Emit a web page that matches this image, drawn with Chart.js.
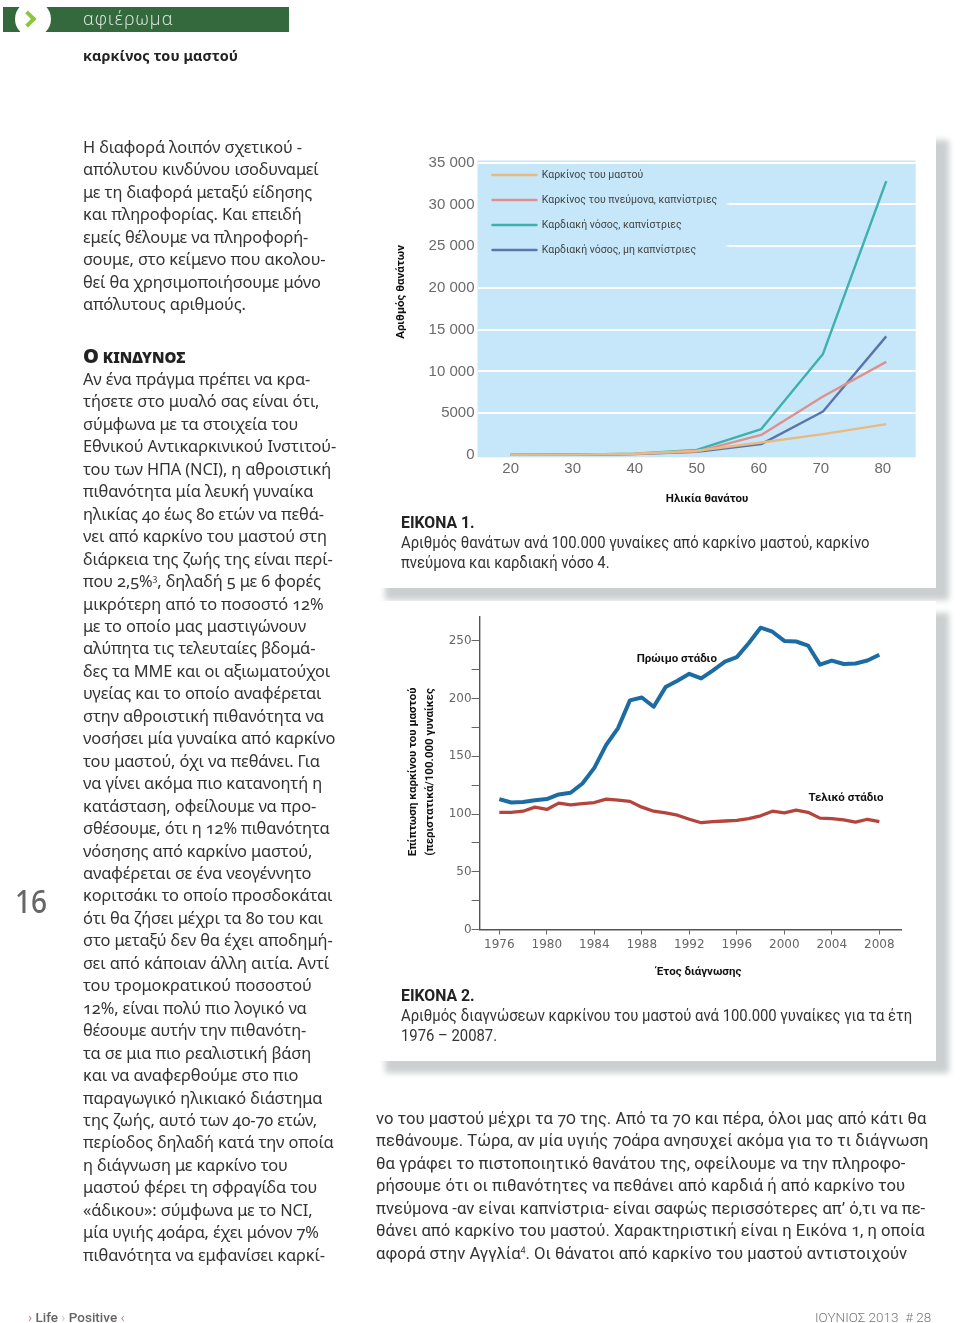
<!DOCTYPE html>
<html lang="el">
<head>
<meta charset="utf-8">
<title>καρκίνος του μαστού</title>
<script src="https://cdn.jsdelivr.net/npm/chart.js@4/dist/chart.umd.min.js"></script>
<style>
  html, body { margin: 0; padding: 0; background: #fff; }
  #page { position: relative; width: 960px; height: 1323px; overflow: hidden; color: #2b2b2b; font-family: "Noto Sans", sans-serif; filter: blur(.3px); }
  #page > * { position: absolute; }
  .col { white-space: nowrap; font-size: 16.4px; line-height: 22.46px; letter-spacing: -0.12px; color: #333; font-variant-numeric: oldstyle-nums; }
  .col sup { font-size: 9px; line-height: 0; }
  .panel { left: 372px; width: 564px; background: #fff; box-shadow: 13px 12px 6px #cbcfcf; }
  .cap { left: 401px; white-space: nowrap; font-family: Roboto, sans-serif; font-size: 15.8px; line-height: 20px; color: #333; transform: scaleX(.94); transform-origin: left top; }
  .caphead { left: 401px; font-family: Roboto, sans-serif; font-size: 15.8px; line-height: 20px; font-weight: 700; color: #222; white-space: nowrap; }
  canvas { position: absolute; display: block; }
  #bar { left: 3px; top: 7px; width: 286px; height: 25px; background: #33693c; overflow: hidden; }
  #dot { position: absolute; left: 12px; top: -6px; width: 36px; height: 36px; border-radius: 50%; background: #fff; }
  #chev { position: absolute; left: 7px; top: 12px; width: 8px; height: 8px; border-top: 4px solid #8cc540; border-right: 4px solid #8cc540; transform: rotate(45deg); }
  #tag { left: 83px; top: 6px; font-family: "Open Sans", sans-serif; font-size: 18px; line-height: 25px; letter-spacing: 1.1px; color: #e6efe6; font-weight: 300; }
</style>
</head>
<body>
<div id="page">
  <div id="bar"><div id="dot"><div id="chev"></div></div></div>
  <div id="tag">αφιέρωμα</div>
  <div style="left:83px;top:45px;font-size:14.4px;line-height:22px;font-weight:700;color:#222;letter-spacing:.1px">καρκίνος του μαστού</div>

  <div class="col" style="left:83px;top:136px">Η διαφορά λοιπόν σχετικού -<br>απόλυτου κινδύνου ισοδυναμεί<br>με τη διαφορά μεταξύ είδησης<br>και πληροφορίας. Και επειδή<br>εμείς θέλουμε να πληροφορή-<br>σουμε, στο κείμενο που ακολου-<br>θεί θα χρησιμοποιήσουμε μόνο<br>απόλυτους αριθμούς.</div>

  <div style="left:83px;top:344px;font-weight:900;line-height:24px;font-size:15px;color:#222;white-space:nowrap"><span style="font-size:20px">Ο</span> ΚΙΝΔΥΝΟΣ</div>

  <div class="col" style="left:83px;top:368px">Αν ένα πράγμα πρέπει να κρα-<br>τήσετε στο μυαλό σας είναι ότι,<br>σύμφωνα με τα στοιχεία του<br>Εθνικού Αντικαρκινικού Ινστιτού-<br>του των ΗΠΑ (NCI), η αθροιστική<br>πιθανότητα μία λευκή γυναίκα<br>ηλικίας 40 έως 80 ετών να πεθά-<br>νει από καρκίνο του μαστού στη<br>διάρκεια της ζωής της είναι περί-<br>που 2,5%<sup>3</sup>, δηλαδή 5 με 6 φορές<br>μικρότερη από το ποσοστό 12%<br>με το οποίο μας μαστιγώνουν<br>αλύπητα τις τελευταίες βδομά-<br>δες τα ΜΜΕ και οι αξιωματούχοι<br>υγείας και το οποίο αναφέρεται<br>στην αθροιστική πιθανότητα να<br>νοσήσει μία γυναίκα από καρκίνο<br>του μαστού, όχι να πεθάνει. Για<br>να γίνει ακόμα πιο κατανοητή η<br>κατάσταση, οφείλουμε να προ-<br>σθέσουμε, ότι η 12% πιθανότητα<br>νόσησης από καρκίνο μαστού,<br>αναφέρεται σε ένα νεογέννητο<br>κοριτσάκι το οποίο προσδοκάται<br>ότι θα ζήσει μέχρι τα 80 του και<br>στο μεταξύ δεν θα έχει αποδημή-<br>σει από κάποιαν άλλη αιτία. Αντί<br>του τρομοκρατικού ποσοστού<br>12%, είναι πολύ πιο λογικό να<br>θέσουμε αυτήν την πιθανότη-<br>τα σε μια πιο ρεαλιστική βάση<br>και να αναφερθούμε στο πιο<br>παραγωγικό ηλικιακό διάστημα<br>της ζωής, αυτό των 40-70 ετών,<br>περίοδος δηλαδή κατά την οποία<br>η διάγνωση με καρκίνο του<br>μαστού φέρει τη σφραγίδα του<br>«άδικου»: σύμφωνα με το NCI,<br>μία υγιής 40άρα, έχει μόνον 7%<br>πιθανότητα να εμφανίσει καρκί-</div>

  <div style="left:15px;top:879px;font-size:33px;line-height:44px;font-weight:500;color:#666;transform:scaleX(.85);transform-origin:left top">16</div>

  <div class="panel" style="top:128px;height:460px"></div>
  <div class="panel" style="top:601px;height:460px"></div>

  <canvas id="deaths" width="540" height="375" style="left:390px;top:145px;width:540px;height:375px"></canvas>
  <div class="caphead" style="top:513px">ΕΙΚΟΝΑ 1.</div>
  <div class="cap" style="top:533px">Αριθμός θανάτων ανά 100.000 γυναίκες από καρκίνο μαστού, καρκίνο<br>πνεύμονα και καρδιακή νόσο 4.</div>

  <canvas id="incidence" width="530" height="385" style="left:390px;top:605px;width:530px;height:385px"></canvas>
  <div class="caphead" style="top:986px">ΕΙΚΟΝΑ 2.</div>
  <div class="cap" style="top:1006px">Αριθμός διαγνώσεων καρκίνου του μαστού ανά 100.000 γυναίκες για τα έτη<br>1976 – 20087.</div>

  <div class="col" style="left:376px;top:1107px;font-family:Roboto,sans-serif;font-size:17.4px;letter-spacing:0;transform:scaleX(.957);transform-origin:left top">νο του μαστού μέχρι τα 70 της. Από τα 70 και πέρα, όλοι μας από κάτι θα<br>πεθάνουμε. Τώρα, αν μία υγιής 70άρα ανησυχεί ακόμα για το τι διάγνωση<br>θα γράφει το πιστοποιητικό θανάτου της, οφείλουμε να την πληροφο-<br>ρήσουμε ότι οι πιθανότητες να πεθάνει από καρδιά ή από καρκίνο του<br>πνεύμονα -αν είναι καπνίστρια- είναι σαφώς περισσότερες απ’ ό,τι να πε-<br>θάνει από καρκίνο του μαστού. Χαρακτηριστική είναι η Εικόνα 1, η οποία<br>αφορά στην Αγγλία<sup>4</sup>. Οι θάνατοι από καρκίνο του μαστού αντιστοιχούν</div>

  <div style="left:28px;top:1308px;font-family:Roboto,sans-serif;font-size:13.5px;line-height:18px;font-weight:500;color:#666;white-space:nowrap"><span style="color:#b98a94">›</span> Life <span style="color:#ccc">›</span> Positive <span style="color:#b98a94">‹</span></div>
  <div style="left:815px;top:1308px;font-family:Roboto,sans-serif;font-size:13.5px;line-height:18px;font-weight:300;color:#777;white-space:nowrap">ΙΟΥΝΙΟΣ 2013&nbsp; # 28</div>
</div>

<script>
// Figure 1: deaths by age at death
const deathAges = [20, 30, 40, 50, 60.4, 70.35, 80.55];
const breastCancer = [10, 40, 150, 500, 1500, 2500, 3700];
const lungCancerSmokers = [10, 40, 130, 400, 2400, 7000, 11150];
const heartSmokers = [10, 40, 140, 600, 3100, 12100, 32800];
const heartNonSmokers = [10, 30, 100, 380, 1300, 5200, 14200];
const deathSeriesNames = ["Καρκίνος του μαστού", "Καρκίνος του πνεύμονα, καπνίστριες", "Καρδιακή νόσος, καπνίστριες", "Καρδιακή νόσος, μη καπνίστριες"];
const ageTicks = [20, 30, 40, 50, 60, 70, 80];
const deathTicks = [0, 5000, 10000, 15000, 20000, 25000, 30000, 35000];
const deathTickLabels = ["0", "5000", "10 000", "15 000", "20 000", "25 000", "30 000", "35 000"];

// Figure 2: incidence by year of diagnosis
const years = [1976, 1977, 1978, 1979, 1980, 1981, 1982, 1983, 1984, 1985, 1986, 1987, 1988, 1989, 1990, 1991, 1992, 1993, 1994, 1995, 1996, 1997, 1998, 1999, 2000, 2001, 2002, 2003, 2004, 2005, 2006, 2007, 2008];
const earlyStage = [113, 110, 110.5, 112, 113, 117, 118.5, 126.5, 140, 160, 174.5, 198.5, 201, 193, 210, 215.5, 221.5, 217.5, 224.5, 232, 236, 248, 261.5, 258, 250, 249.5, 246, 229.5, 233, 230, 230.5, 233, 238];
const lateStage = [101.5, 101.5, 102.5, 106, 104, 109.5, 108, 109, 110, 113, 112, 111, 106, 102.5, 101, 99, 95.5, 92.5, 93.5, 94, 94.5, 96, 98.5, 102.5, 101, 103.5, 101.5, 96.5, 96, 95, 93, 95.5, 93.5];
const yearTicks = [1976, 1980, 1984, 1988, 1992, 1996, 2000, 2004, 2008];
const incidenceTicks = [0, 25, 50, 75, 100, 125, 150, 175, 200, 225, 250];

// text placed in data coordinates, some of it outside the plot area
const placedText = {
  id: "placedText",
  afterDraw(chart, args, opts) {
    const ctx = chart.ctx;
    opts.items.forEach(function(item) {
      ctx.save();
      ctx.translate(chart.scales.x.getPixelForValue(item.x), chart.scales.y.getPixelForValue(item.y));
      if (item.rotate) ctx.rotate(item.rotate);
      ctx.font = opts.font;
      ctx.fillStyle = "#111";
      ctx.textAlign = "center";
      ctx.textBaseline = "middle";
      ctx.fillText(item.text, 0, 0);
      ctx.restore();
    });
  }
};

const plotBackground = {
  id: "plotBackground",
  beforeDraw(chart) {
    const a = chart.chartArea;
    chart.ctx.fillStyle = "#c6e7f9";
    chart.ctx.fillRect(a.left, a.top, a.width, a.height);
  },
  afterLayout(chart) {
    // a chartArea legend comes out of layout at top 0, move it into the plot
    chart.legend.top = 10.25;
    chart.legend.left += 0.5;
  }
};

function lineSet(label, xs, ys, color, width) {
  return {
    label: label,
    data: xs.map(function(x, i) { return { x: x, y: ys[i] }; }),
    borderColor: color,
    backgroundColor: color,
    borderWidth: width,
    pointRadius: 0,
    tension: 0,
    borderJoinStyle: "round"
  };
}

// the 25 000 and 30 000 gridlines stop short where the legend sits
function deathGridColor(context) {
  const v = context.tick.value;
  if (v === 0) return "rgba(255,255,255,0)";
  if (v === 25000 || v === 30000) {
    const g = context.chart.ctx.createLinearGradient(0, 0, 540, 0);
    g.addColorStop(0, "rgba(255,255,255,0)");
    g.addColorStop(0.62, "rgba(255,255,255,0)");
    g.addColorStop(0.63, "#fff");
    g.addColorStop(1, "#fff");
    return g;
  }
  return "#fff";
}

new Chart(document.getElementById("deaths").getContext("2d"), {
  type: "line",
  plugins: [plotBackground, placedText],
  data: {
    datasets: [
      lineSet(deathSeriesNames[0], deathAges, breastCancer, "#e8b982", 2.4),
      lineSet(deathSeriesNames[1], deathAges, lungCancerSmokers, "#df8f8c", 2.4),
      lineSet(deathSeriesNames[2], deathAges, heartSmokers, "#3eb0ad", 2.4),
      lineSet(deathSeriesNames[3], deathAges, heartNonSmokers, "#5c74ac", 2.4)
    ]
  },
  options: {
    responsive: false,
    animation: false,
    layout: { padding: { top: 15.5, right: 14.3, left: 0, bottom: 0 } },
    scales: {
      x: {
        type: "linear",
        min: 14.65,
        max: 85.3,
        afterBuildTicks(axis) { axis.ticks = ageTicks.map(function(v) { return { value: v }; }); },
        afterFit(axis) { axis.height = 62.7; },
        grid: { display: false, drawTicks: false },
        border: { display: false },
        ticks: { padding: 3, maxRotation: 0, autoSkip: false, color: "#6a6a6a", font: { family: "Liberation Sans", size: 15 } }
      },
      y: {
        min: -280,
        max: 35260,
        afterBuildTicks(axis) { axis.ticks = deathTicks.map(function(v) { return { value: v }; }); },
        afterFit(axis) { axis.width = 87.5; },
        grid: { color: deathGridColor, lineWidth: 2, drawTicks: false },
        border: { display: false },
        ticks: {
          padding: 3,
          color: "#6a6a6a",
          font: { family: "Liberation Sans", size: 15 },
          callback: function(value) { return deathTickLabels[deathTicks.indexOf(value)]; }
        }
      }
    },
    plugins: {
      tooltip: { enabled: false },
      legend: {
        position: "chartArea",
        align: "start",
        labels: {
          boxWidth: 44,
          boxHeight: 0,
          padding: 14.5,
          color: "#444",
          font: { family: "Roboto", size: 10.5 }
        }
      },
      placedText: {
        font: "700 11.5px Roboto",
        items: [
          { text: "Αριθμός θανάτων", x: 2.3, y: 19520, rotate: -Math.PI / 2 },
          { text: "Ηλικία θανάτου", x: 51.66, y: -5270 }
        ]
      }
    }
  }
});

new Chart(document.getElementById("incidence").getContext("2d"), {
  type: "line",
  plugins: [placedText],
  data: {
    datasets: [
      lineSet("Πρώιμο στάδιο", years, earlyStage, "#1c6ca3", 4),
      lineSet("Τελικό στάδιο", years, lateStage, "#b5453c", 3.3)
    ]
  },
  options: {
    responsive: false,
    animation: false,
    layout: { padding: { top: 11.7, right: 18.6, left: 0, bottom: 0 } },
    scales: {
      x: {
        type: "linear",
        min: 1974.34,
        max: 2009.86,
        afterBuildTicks(axis) { axis.ticks = yearTicks.map(function(v) { return { value: v }; }); },
        afterFit(axis) { axis.height = 60.5; },
        grid: { drawOnChartArea: false, tickLength: 5, color: "#666", lineWidth: 1 },
        border: { color: "#555", width: 1.4 },
        ticks: {
          padding: 3,
          maxRotation: 0,
          autoSkip: false,
          color: "#666",
          font: { family: "DejaVu Sans", size: 12 },
          callback: function(value) { return String(value); }
        }
      },
      y: {
        min: 0,
        max: 271,
        afterBuildTicks(axis) { axis.ticks = incidenceTicks.map(function(v) { return { value: v }; }); },
        afterFit(axis) { axis.width = 89.6; },
        grid: { drawOnChartArea: false, tickLength: 8, color: "#666", lineWidth: 1 },
        border: { color: "#555", width: 1.4 },
        ticks: {
          padding: 0,
          autoSkip: false,
          color: "#666",
          font: { family: "DejaVu Sans", size: 12 },
          callback: function(value) { return value % 50 === 0 ? String(value) : ""; }
        }
      }
    },
    plugins: {
      tooltip: { enabled: false },
      legend: { display: false },
      placedText: {
        font: "700 11.5px Roboto",
        items: [
          { text: "Πρώιμο στάδιο", x: 1990.95, y: 234.6 },
          { text: "Τελικό στάδιο", x: 2005.2, y: 114 },
          { text: "Έτος διάγνωσης", x: 1992.8, y: -37 },
          { text: "Επίπτωση καρκίνου του μαστού", x: 1968.7, y: 136.5, rotate: -Math.PI / 2 },
          { text: "(περιστατικά/100.000 γυναίκες", x: 1970.2, y: 136.5, rotate: -Math.PI / 2 }
        ]
      }
    }
  }
});
</script>
</body>
</html>
